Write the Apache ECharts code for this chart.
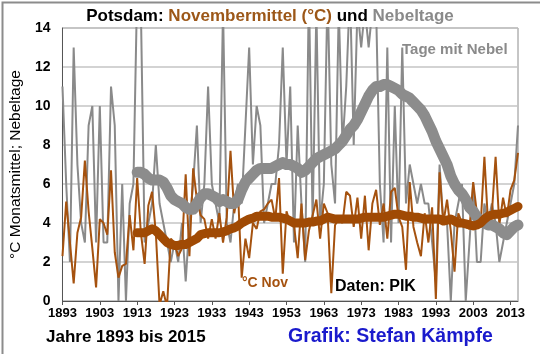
<!DOCTYPE html>
<html><head><meta charset="utf-8">
<script src="https://cdn.jsdelivr.net/npm/echarts@6/dist/echarts.min.js"></script>
<style>html,body{margin:0;padding:0;background:#fff}#c{width:540px;height:354px}</style>
</head><body><div id="c"></div>
<script>
var firstYear = 1893, lastYear = 2015;
var years = [];
for (var y = firstYear; y <= lastYear; y++) years.push(String(y));

// November mean temperature (°C), 1893-2015
var novTemp = [
 2.3,5.1,3.0,0.9,3.5,4.3,7.2,4.6,2.7,0.7,
 4.2,4.0,3.4,6.7,2.5,1.2,1.8,1.9,4.4,2.6,
 6.3,3.5,1.9,4.9,5.6,3.5,-0.2,0.5,-0.3,3.2,
 3.0,2.3,2.7,6.5,2.3,6.8,5.2,4.4,4.2,3.2,
 4.2,3.2,4.5,3.0,4.3,7.7,4.5,5.6,1.2,3.2,
 2.2,4.0,3.7,4.6,4.7,5.0,5.2,4.2,6.3,1.4,
 4.6,4.0,3.9,2.2,5.0,2.1,3.6,4.4,5.2,3.2,
 5.0,4.5,0.4,3.9,4.2,4.0,5.6,5.4,3.8,5.3,
 3.2,5.4,2.6,5.0,5.7,3.9,5.0,3.2,5.6,5.8,
 4.3,3.8,1.6,6.1,3.8,3.0,2.3,4.5,3.0,4.8,
 0.1,6.6,4.0,5.2,3.6,1.5,4.5,4.0,3.8,3.7,
 6.1,4.5,3.9,7.4,3.9,4.5,7.4,3.9,5.3,4.3,
 5.7,6.2,7.6
];
// Fog days in November, 1893-2015
var fogDays = [
 11,6,2,13,7,4,3,9,10,3,
 10,3,3,11,9,0,6,0,5,6,
 16,15,3,4,5,8,5,4,3,2,
 3,2,4,1,4,6,9,4,6,11,
 6,5,4,15,4,3,5,6,5,9,
 13,7,10,9,4,5,6,6,8,13,
 7,11,3,9,5,2,16,4,15,4,
 6,16,7,5,15,8,11,16,8,15,
 13,15,13,15,15,6,3,13,3,10,
 4,13,5,7,6,5,6,5,5,3,
 1,7,4,4,0,4,5,6,0,3,
 6,2,2,5,4,5,4,2,3,4,
 5,6,9
];
// smoothed curves as drawn, 1913-2015
var smoothStart = 1913;
var tempSmooth = [
 3.5,3.5,3.5,3.6,3.7,3.6,3.4,3.2,3.0,2.9,
 2.85,2.85,2.9,2.9,3.0,3.1,3.2,3.4,3.45,3.5,
 3.5,3.5,3.5,3.55,3.6,3.7,3.75,3.85,4.0,4.1,
 4.2,4.25,4.35,4.35,4.35,4.35,4.3,4.3,4.3,4.25,
 4.2,4.1,4.0,4.0,4.0,4.0,4.05,4.05,4.1,4.1,
 4.2,4.3,4.25,4.2,4.2,4.2,4.2,4.2,4.2,4.2,
 4.25,4.3,4.3,4.3,4.3,4.3,4.3,4.35,4.4,4.45,
 4.45,4.4,4.35,4.35,4.3,4.3,4.25,4.2,4.2,4.2,
 4.2,4.2,4.1,4.15,4.2,4.1,4.0,4.0,3.95,3.9,
 3.85,3.9,4.0,4.2,4.35,4.4,4.45,4.45,4.5,4.55,
 4.65,4.75,4.85
];
var fogSmooth = [
 6.6,6.6,6.5,6.3,6.2,6.2,6.2,6.1,5.8,5.4,
 5.2,5.1,5.0,4.8,4.7,4.7,5.0,5.3,5.5,5.5,
 5.4,5.3,5.1,5.2,5.1,5.0,5.0,5.2,5.7,6.1,
 6.3,6.5,6.7,6.8,6.8,6.8,6.8,6.9,7.0,7.1,
 7.0,7.0,6.9,6.8,6.6,6.7,6.9,7.1,7.3,7.4,
 7.5,7.6,7.7,7.8,8.0,8.2,8.5,8.8,9.0,9.3,
 9.7,10.1,10.5,10.8,11.0,11.0,11.1,11.1,11.0,10.9,
 10.8,10.6,10.5,10.4,10.2,10.0,9.8,9.5,9.1,8.7,
 8.2,7.8,7.4,7.0,6.4,6.0,5.7,5.5,5.2,4.8,
 4.6,4.3,4.1,4.0,3.9,3.9,3.8,3.7,3.5,3.4,
 3.6,3.8,3.9
];
var yTicks = {min: 0, max: 14, step: 2};

function pad(arr) {
  var out = [];
  for (var i = firstYear; i < smoothStart; i++) out.push(null);
  return out.concat(arr);
}

var BROWN = '#a5520f', BROWN_T = '#a04a04', GRAY = '#8a8a8a', GRAY_T = '#8c8c8c';
var F = 'Liberation Sans, Arial, sans-serif';

var chart = echarts.init(document.getElementById('c'), null, {renderer: 'canvas'});
chart.setOption({
  animation: false,
  backgroundColor: '#fff',
  title: {
    text: '{a|Potsdam: }{b|Novembermittel (°C)}{a| und }{c|Nebeltage}',
    left: 'center', top: 3,
    textStyle: {
      rich: {
        a: {fontFamily: F, fontWeight: 'bold', fontSize: 17, color: '#000'},
        b: {fontFamily: F, fontWeight: 'bold', fontSize: 17, color: '#9c5718'},
        c: {fontFamily: F, fontWeight: 'bold', fontSize: 17, color: '#8a8a8a'}
      }
    }
  },
  grid: {left: 47, right: 22, top: 28, bottom: 53, show: true, borderColor: '#8c8c8c', borderWidth: 1},
  xAxis: {
    type: 'category', data: years, boundaryGap: false,
    axisLine: {lineStyle: {color: '#555'}},
    axisTick: {interval: 9, length: 4, lineStyle: {color: '#555'}},
    axisLabel: {interval: 9, fontFamily: F, fontWeight: 'bold', fontSize: 13, color: '#000', margin: 6}
  },
  yAxis: {
    type: 'value', min: yTicks.min, max: yTicks.max, interval: yTicks.step,
    name: '°C Monatsmittel; Nebeltage', nameLocation: 'middle', nameGap: 34, nameRotate: 90,
    nameTextStyle: {fontFamily: F, fontSize: 15.5, color: '#000'},
    axisLine: {show: true, lineStyle: {color: '#555'}},
    axisTick: {show: false},
    splitLine: {lineStyle: {color: '#c4c4c4', width: 1.5}},
    axisLabel: {fontFamily: F, fontWeight: 'bold', fontSize: 14, color: '#000', margin: 12}
  },
  series: [
    {type: 'line', data: fogDays, symbol: 'none', clip: true, lineStyle: {color: GRAY, width: 2}, z: 2},
    {type: 'line', data: novTemp, symbol: 'none', clip: true, lineStyle: {color: BROWN, width: 2}, z: 3},
    {type: 'line', data: pad(fogSmooth), symbol: 'none', clip: true, lineStyle: {color: GRAY_T, width: 11, cap: 'round', join: 'round'}, z: 4},
    {type: 'line', data: pad(tempSmooth), symbol: 'none', clip: true, lineStyle: {color: BROWN_T, width: 9, cap: 'round', join: 'round'}, z: 5}
  ],
  graphic: [
    {type: 'rect', left: 0, top: 0, shape: {width: 539, height: 353}, style: {fill: 'none', stroke: '#8c8c8c', lineWidth: 2}, z: 100},
    {type: 'text', left: 402, top: 42, style: {text: 'Tage mit Nebel', font: 'bold 15px ' + F, fill: '#8a8a8a'}, z: 50},
    {type: 'text', left: 242, top: 276, style: {text: '°C Nov', font: 'bold 14px ' + F, fill: '#a5520f'}, z: 50},
    {type: 'text', left: 335, top: 279, style: {text: 'Daten: PIK', font: 'bold 16px ' + F, fill: '#000'}, z: 50},
    {type: 'text', left: 46, top: 329, style: {text: 'Jahre 1893 bis 2015', font: 'bold 17px ' + F, fill: '#000'}, z: 50},
    {type: 'text', left: 288, top: 327, style: {text: 'Grafik: Stefan Kämpfe', font: 'bold 19.5px ' + F, fill: '#1a1acc'}, z: 50}
  ]
});
</script></body></html>
